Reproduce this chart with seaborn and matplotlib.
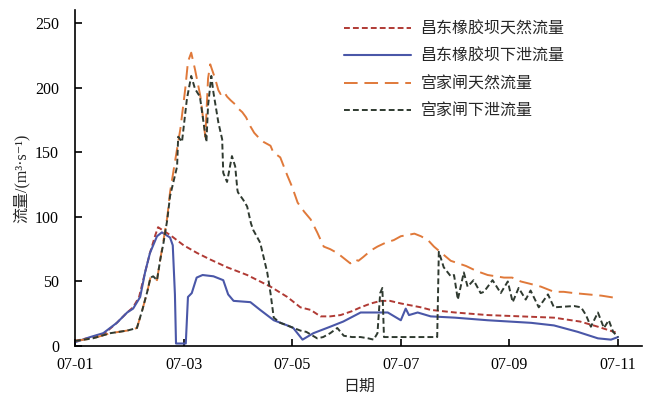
import numpy as np
import pandas as pd
import seaborn as sns
import matplotlib.pyplot as plt
import matplotlib.dates as mdates

# time in days since 07-01 00:00, flow in m3/s
cd_nat_t = [0, 0.33, 0.55, 0.77, 0.96, 1.07, 1.18, 1.29, 1.38, 1.48, 1.53, 1.6, 1.75, 2.0, 2.25, 2.49,
            2.8, 3.17, 3.6, 3.91, 4.15, 4.34, 4.52, 4.7, 4.89, 5.1, 5.26, 5.45, 5.63, 5.8, 6.0, 6.37,
            6.55, 7.0, 7.6, 8.21, 8.82, 9.3, 9.63, 10.0]
cd_nat_v = [4, 7, 10, 18, 26, 30, 38, 57, 72, 86, 92, 90, 86, 78, 72, 67,
            61, 55, 46, 38, 30, 28, 23, 23, 24, 27, 30, 33, 35, 35, 33, 30,
            28, 26, 24, 23, 22, 19, 15, 10]

cd_out_t = [0, 0.28, 0.52, 0.77, 0.96, 1.07, 1.2, 1.29, 1.38, 1.51, 1.6, 1.75, 1.8, 1.84, 1.86,
            2.04, 2.08, 2.15, 2.24, 2.35, 2.55, 2.73, 2.82, 2.92, 3.23, 3.41, 3.66, 3.91, 4.02,
            4.19, 4.39, 4.7, 4.94, 5.26, 5.63, 5.76, 6.0, 6.09, 6.15, 6.31, 6.55, 7.0, 7.6, 8.4,
            8.82, 9.26, 9.63, 9.87, 10.0]
cd_out_v = [3, 7, 10, 18, 26, 29, 38, 57, 72, 85, 88, 84, 78, 40, 2,
            2, 38, 41, 53, 55, 54, 51, 40, 35, 34, 28, 20, 16, 14,
            5, 10, 15, 19, 26, 26, 26, 20, 29, 24, 26, 23, 22, 20, 18,
            16, 11, 6, 5, 7]

gj_nat_t = [0, 0.33, 0.65, 0.96, 1.14, 1.24, 1.33, 1.39, 1.44, 1.51, 1.57, 1.63, 1.7, 1.75, 1.85,
            1.94, 2.03, 2.08, 2.14, 2.21, 2.31, 2.4, 2.45, 2.49, 2.58, 2.64, 2.68, 2.74, 2.8, 2.87,
            2.95, 3.0, 3.08, 3.15, 3.23, 3.3, 3.41, 3.47, 3.6, 3.65, 3.78, 3.91, 4.0, 4.1, 4.22,
            4.34, 4.46, 4.58, 4.7, 4.83, 4.95, 5.07, 5.15, 5.22, 5.31, 5.45, 5.57, 5.72, 5.87,
            6.0, 6.13, 6.25, 6.37, 6.5, 6.61, 6.75, 6.92, 7.2, 7.4, 7.6, 7.9, 8.05, 8.21, 8.4,
            8.58, 8.82, 9.0, 9.19, 9.45, 9.7, 10.0]
gj_nat_v = [4, 6, 10, 12, 14, 28, 42, 53, 54, 51, 67, 82, 100, 119, 145,
            168, 199, 220, 227, 214, 193, 162, 207, 218, 207, 198, 195, 197, 193, 190,
            187, 184, 181, 177, 170, 165, 160, 158, 155, 150, 146, 132, 123, 111, 104,
            98, 88, 77, 75, 72, 68, 64, 67, 66, 69, 74, 77, 80, 82,
            85, 86, 87, 85, 82, 77, 72, 66, 62, 58, 55, 53, 53, 50, 48,
            46, 42, 42, 41, 40, 39, 37]

gj_out_t = [0, 0.33, 0.65, 0.96, 1.14, 1.24, 1.33, 1.39, 1.44, 1.51, 1.57, 1.63, 1.7, 1.75, 1.88,
            1.9, 1.97, 2.06, 2.14, 2.21, 2.3, 2.36, 2.42, 2.45, 2.51, 2.55, 2.64, 2.71, 2.73,
            2.8, 2.89, 2.95, 2.99, 3.0, 3.1, 3.17, 3.24, 3.28, 3.41, 3.54, 3.6, 3.66, 3.78, 3.97,
            4.15, 4.26, 4.46, 4.57, 4.7, 4.83, 4.95, 5.1, 5.26, 5.4, 5.5, 5.57, 5.62, 5.66, 5.69,
            6.67, 6.7, 6.79, 6.92, 6.98, 7.05, 7.16, 7.23, 7.34, 7.47, 7.53, 7.69, 7.84, 7.97,
            8.06, 8.17, 8.3, 8.39, 8.54, 8.71, 8.82, 9.19, 9.32, 9.41, 9.5, 9.63, 9.74, 9.83,
            9.91, 10.0]
gj_out_v = [4, 6, 10, 12, 14, 28, 42, 53, 54, 51, 67, 80, 98, 116, 139,
            162, 158, 191, 209, 199, 193, 175, 158, 186, 209, 196, 173, 160, 134,
            127, 147, 139, 121, 119, 113, 108, 95, 90, 80, 57, 41, 22, 18, 15,
            12, 11, 6, 7, 10, 14, 8, 7, 7, 6, 5, 10, 41, 45, 7,
            7, 73, 61, 54, 55, 36, 57, 46, 51, 41, 42, 51, 41, 50,
            34, 45, 36, 43, 30, 40, 30, 31, 30, 24, 15, 26, 14, 20,
            11, 7]

labels = ["昌东橡胶坝天然流量", "昌东橡胶坝下泄流量", "宫家闸天然流量", "宫家闸下泄流量"]

start = pd.Timestamp("2020-07-01")


def to_time(days):
    return start + pd.to_timedelta(np.array(days), unit="D")


sns.set_style("ticks")
plt.rcParams['font.family'] = ['Liberation Serif', 'Noto Sans CJK SC', 'DejaVu Sans']

fig = plt.figure(figsize=(6.5, 4.18), dpi=100)
ax = fig.add_axes([0.1154, 0.172, 0.873, 0.804])

sns.lineplot(x=to_time(cd_nat_t), y=cd_nat_v, ax=ax, color="#b03a34", linewidth=1.4,
             linestyle=(0, (3, 1.6)), label=labels[0])
sns.lineplot(x=to_time(cd_out_t), y=cd_out_v, ax=ax, color="#4a57a8", linewidth=1.5,
             label=labels[1])
sns.lineplot(x=to_time(gj_nat_t), y=gj_nat_v, ax=ax, color="#e0793a", linewidth=1.4,
             linestyle=(0, (7, 3.5)), label=labels[2])
sns.lineplot(x=to_time(gj_out_t), y=gj_out_v, ax=ax, color="#2f3a30", linewidth=1.4,
             linestyle=(0, (3, 1.6)), label=labels[3])

ax.set_xlim(start, start + pd.Timedelta(days=10.45))
ax.set_ylim(0, 260)
ax.set_yticks([0, 50, 100, 150, 200, 250])
ax.xaxis.set_major_locator(mdates.DayLocator(bymonthday=[1, 3, 5, 7, 9, 11]))
ax.xaxis.set_major_formatter(mdates.DateFormatter("%m-%d"))

sns.despine(ax=ax)
for s in ["left", "bottom"]:
    ax.spines[s].set_linewidth(1.2)
    ax.spines[s].set_color("black")
ax.tick_params(direction="in", length=5, width=1.2, labelsize=11.5, colors="black")
ax.tick_params(axis="x", pad=8)
ax.tick_params(axis="y", pad=11.5)

ax.set_xlabel("日期", fontsize=11.5, labelpad=4)
ax.set_ylabel("流量/(m³·s⁻¹)", fontsize=11.5, labelpad=4)

ax.legend(loc="upper left", bbox_to_anchor=(0.507, 0.983), bbox_transform=fig.transFigure,
          frameon=False, fontsize=11.5, handlelength=4.2, handletextpad=0.6,
          labelspacing=0.72)

fig.savefig("out.png", dpi=100)
